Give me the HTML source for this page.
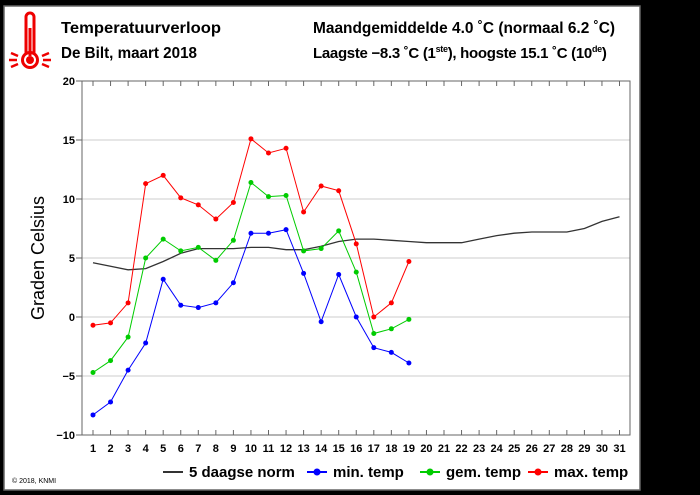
<!DOCTYPE html><html><head><meta charset="utf-8"><style>
body{margin:0;background:#000;width:700px;height:495px;overflow:hidden}
svg{display:block;font-family:"Liberation Sans",Arial,sans-serif}
</style></head><body>
<svg width="700" height="495" viewBox="0 0 700 495">
<rect x="0" y="0" width="700" height="495" fill="#000"/>
<rect x="4" y="6" width="636" height="484" fill="#fff" stroke="#666" stroke-width="1.5"/>
<g stroke="#e00" fill="none" stroke-width="3">
<path d="M26 54 V17 a4 4 0 0 1 8 0 V54"/>
<circle cx="30" cy="60" r="7.5"/>
</g>
<circle cx="30" cy="60" r="4" fill="#e00"/>
<line x1="30" y1="28" x2="30" y2="56" stroke="#e00" stroke-width="3"/>
<g stroke="#e00" stroke-width="2.5">
<line x1="9" y1="60" x2="17" y2="60"/><line x1="43" y1="60" x2="51" y2="60"/>
<line x1="11" y1="53" x2="18" y2="56"/><line x1="49" y1="53" x2="42" y2="56"/>
<line x1="11" y1="67" x2="18" y2="64"/><line x1="49" y1="67" x2="42" y2="64"/>
</g>
<g font-weight="bold" font-size="16" fill="#000">
<text x="61" y="33" textLength="160" lengthAdjust="spacingAndGlyphs">Temperatuurverloop</text>
<text x="61" y="58" textLength="136" lengthAdjust="spacingAndGlyphs">De Bilt, maart 2018</text>
<text x="313" y="33" textLength="302" lengthAdjust="spacingAndGlyphs">Maandgemiddelde 4.0 ˚C (normaal 6.2 ˚C)</text>
<text x="313" y="58" font-size="15" letter-spacing="-0.3">Laagste −8.3 ˚C (1<tspan font-size="9" dy="-6">ste</tspan><tspan dy="6">), hoogste 15.1 ˚C (10</tspan><tspan font-size="9" dy="-6">de</tspan><tspan dy="6">)</tspan></text>
</g>
<g stroke="#ccc" stroke-width="1">
<line x1="82" y1="140" x2="630" y2="140"/><line x1="82" y1="199" x2="630" y2="199"/>
<line x1="82" y1="258" x2="630" y2="258"/><line x1="82" y1="317" x2="630" y2="317"/>
<line x1="82" y1="376" x2="630" y2="376"/>
</g>
<rect x="82" y="81" width="548" height="354" fill="none" stroke="#666" stroke-width="1"/>
<g stroke="#666" stroke-width="1" id="ticks"></g>
<g font-weight="bold" font-size="11" text-anchor="end" fill="#000">
<text x="75" y="85">20</text><text x="75" y="144">15</text><text x="75" y="203">10</text>
<text x="75" y="262">5</text><text x="75" y="321">0</text><text x="75" y="380">−5</text><text x="75" y="439">−10</text>
</g>
<g stroke="#666"><line x1="76" y1="81" x2="82" y2="81"/><line x1="76" y1="140" x2="82" y2="140"/><line x1="76" y1="199" x2="82" y2="199"/><line x1="76" y1="258" x2="82" y2="258"/><line x1="76" y1="317" x2="82" y2="317"/><line x1="76" y1="376" x2="82" y2="376"/><line x1="76" y1="435" x2="82" y2="435"/></g>
<text transform="translate(44 258) rotate(-90)" font-size="18" text-anchor="middle">Graden Celsius</text>
<g id="xl" font-weight="bold" font-size="11" text-anchor="middle"></g>
<g id="series"></g>
<g font-weight="bold" font-size="15">
<line x1="163" y1="472" x2="183" y2="472" stroke="#333" stroke-width="2"/><text x="189" y="477">5 daagse norm</text>
<line x1="307" y1="472" x2="327" y2="472" stroke="#00f" stroke-width="2"/><circle cx="317" cy="472" r="3.5" fill="#00f"/><text x="333" y="477">min. temp</text>
<line x1="420" y1="472" x2="440" y2="472" stroke="#0c0" stroke-width="2"/><circle cx="430" cy="472" r="3.5" fill="#0c0"/><text x="446" y="477">gem. temp</text>
<line x1="528" y1="472" x2="548" y2="472" stroke="#f00" stroke-width="2"/><circle cx="538" cy="472" r="3.5" fill="#f00"/><text x="554" y="477">max. temp</text>
</g>
<text x="12" y="483" font-size="7">© 2018, KNMI</text>
</svg>
<script>
var ns="http://www.w3.org/2000/svg";
function X(d){return 93+(d-1)*17.55}
function Y(v){return 317-v*11.8}
var t=document.getElementById("ticks"),xl=document.getElementById("xl");
for(var d=1;d<=31;d++){
 [[81,86],[430,435]].forEach(function(p){var l=document.createElementNS(ns,"line");l.setAttribute("x1",X(d));l.setAttribute("x2",X(d));l.setAttribute("y1",p[0]);l.setAttribute("y2",p[1]);t.appendChild(l);});
 var tx=document.createElementNS(ns,"text");tx.setAttribute("x",X(d));tx.setAttribute("y",452);tx.textContent=d;xl.appendChild(tx);
}
var s=document.getElementById("series");
function line(data,c,dots,w){
 var pts=data.map(function(v,i){return X(i+1).toFixed(1)+","+Y(v).toFixed(1)}).join(" ");
 var p=document.createElementNS(ns,"polyline");p.setAttribute("points",pts);p.setAttribute("fill","none");p.setAttribute("stroke",c);p.setAttribute("stroke-width",w);s.appendChild(p);
 if(dots)data.forEach(function(v,i){var ci=document.createElementNS(ns,"circle");ci.setAttribute("cx",X(i+1));ci.setAttribute("cy",Y(v));ci.setAttribute("r",2.5);ci.setAttribute("fill",c);s.appendChild(ci);});
}
line([4.6,4.3,4.0,4.1,4.7,5.4,5.8,5.8,5.8,5.9,5.9,5.7,5.7,6.0,6.4,6.6,6.6,6.5,6.4,6.3,6.3,6.3,6.6,6.9,7.1,7.2,7.2,7.2,7.5,8.1,8.5],"#333",false,1.3);
line([-8.3,-7.2,-4.5,-2.2,3.2,1.0,0.8,1.2,2.9,7.1,7.1,7.4,3.7,-0.4,3.6,0.0,-2.6,-3.0,-3.9],"#00f",true,1);
line([-4.7,-3.7,-1.7,5.0,6.6,5.6,5.9,4.8,6.5,11.4,10.2,10.3,5.6,5.8,7.3,3.8,-1.4,-1.0,-0.2],"#0c0",true,1);
line([-0.7,-0.5,1.2,11.3,12.0,10.1,9.5,8.3,9.7,15.1,13.9,14.3,8.9,11.1,10.7,6.2,0.0,1.2,4.7],"#f00",true,1);
</script>
</body></html>
